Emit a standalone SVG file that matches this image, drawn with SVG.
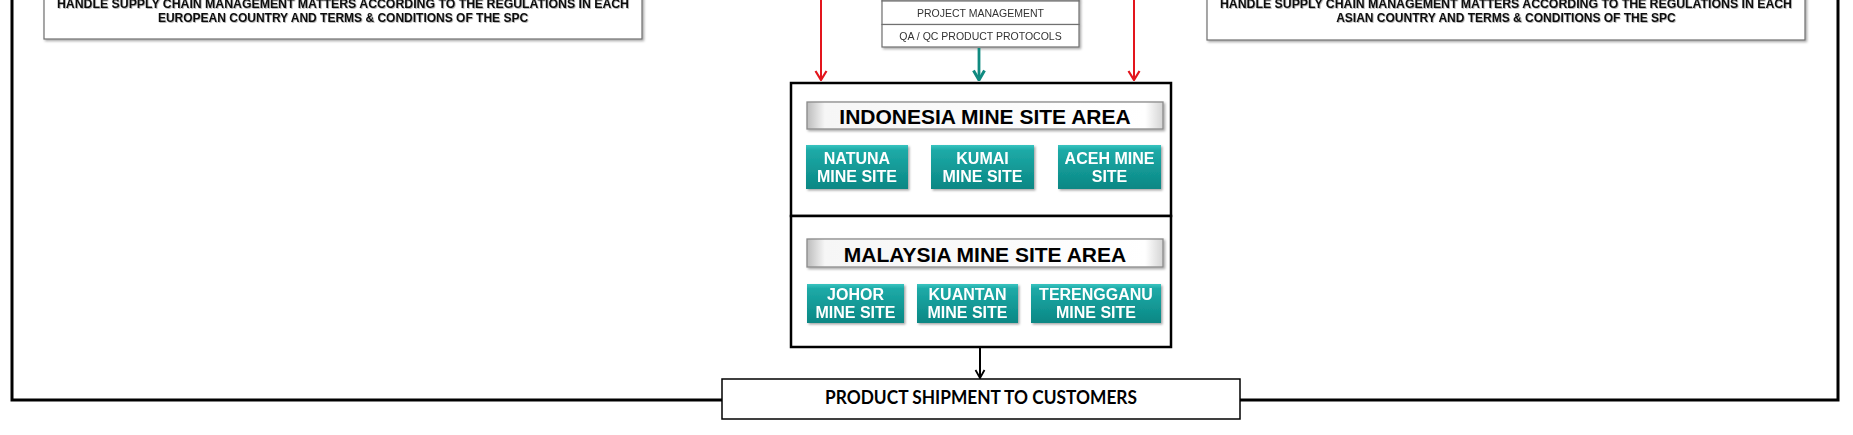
<svg xmlns="http://www.w3.org/2000/svg" width="1853" height="435" viewBox="0 0 1853 435">
<defs>
  <filter id="sh" x="-5%" y="-20%" width="110%" height="150%">
    <feDropShadow dx="1.5" dy="1.5" stdDeviation="1" flood-color="#000" flood-opacity="0.35"/>
  </filter>
  <filter id="tsh" x="-5%" y="-30%" width="110%" height="160%">
    <feDropShadow dx="0.8" dy="0.8" stdDeviation="0.5" flood-color="#000" flood-opacity="0.35"/>
  </filter>
  <linearGradient id="teal" x1="0" y1="0" x2="0" y2="1">
    <stop offset="0" stop-color="#39c4c0"/>
    <stop offset="0.12" stop-color="#1eaaa7"/>
    <stop offset="0.6" stop-color="#129794"/>
    <stop offset="1" stop-color="#0d8784"/>
  </linearGradient>
  <linearGradient id="hdr" x1="0" y1="0" x2="1" y2="0">
    <stop offset="0" stop-color="#bcbcbc"/>
    <stop offset="0.05" stop-color="#f6f6f6"/>
    <stop offset="0.95" stop-color="#ffffff"/>
    <stop offset="1" stop-color="#d4d4d4"/>
  </linearGradient>
  <marker id="arR" viewBox="0 0 14 14" refX="13" refY="7" markerWidth="14" markerHeight="14" markerUnits="userSpaceOnUse" orient="auto">
    <path d="M4,1.5 L13,7 L4,12.5" fill="none" stroke="#e3151d" stroke-width="2.2"/>
  </marker>
  <marker id="arT" viewBox="0 0 14 14" refX="13" refY="7" markerWidth="14" markerHeight="14" markerUnits="userSpaceOnUse" orient="auto">
    <path d="M3.5,1.5 L13,7 L3.5,12.5" fill="none" stroke="#108a80" stroke-width="3"/>
  </marker>
  <marker id="arK" viewBox="0 0 12 12" refX="11" refY="6" markerWidth="12" markerHeight="12" markerUnits="userSpaceOnUse" orient="auto">
    <path d="M3,1.5 L11,6 L3,10.5" fill="none" stroke="#000" stroke-width="1.8"/>
  </marker>
</defs>
<style>
  .note{fill:#fff;stroke:#6f6f6f;stroke-width:1.2}
  .notet{font-family:"Liberation Sans",Arial,sans-serif;font-weight:bold;font-size:12px;fill:#111;text-anchor:middle}
  .pm{fill:#fff;stroke:#6f6f6f;stroke-width:1.2}
  .pmt{font-family:"Liberation Sans",Arial,sans-serif;font-size:10.5px;fill:#333;text-anchor:middle}
  .hdr{fill:url(#hdr);stroke:#8a8a8a;stroke-width:1.3}
  .hdrt{font-family:"Liberation Sans",Arial,sans-serif;font-weight:bold;font-size:21px;fill:#000;text-anchor:middle}
  .btn{fill:url(#teal)}
  .btnt{font-family:"Liberation Sans",Arial,sans-serif;font-weight:bold;font-size:16px;fill:#fff;text-anchor:middle}
  .frame{fill:none;stroke:#000;stroke-width:3}
  .area{fill:#fff;stroke:#000;stroke-width:2.5}
  .ship{fill:#fff;stroke:#000;stroke-width:1.5}
  .shipt{font-family:Lato,"Liberation Sans",sans-serif;font-weight:bold;font-size:18px;fill:#000;text-anchor:middle}
</style>
<rect width="1853" height="435" fill="#fff"/>

<g id="outer-frame">
  <path class="frame" d="M12,-10 L12,400 L1838,400 L1838,-10"/>
</g>

<g id="europe-note" filter="url(#sh)">
  <rect class="note" x="44" y="-30" width="598" height="69"/>
  <g filter="url(#tsh)">
    <text class="notet" x="343" y="8" textLength="572" lengthAdjust="spacingAndGlyphs">HANDLE SUPPLY CHAIN MANAGEMENT MATTERS ACCORDING TO THE REGULATIONS IN EACH</text>
    <text class="notet" x="343" y="22">EUROPEAN COUNTRY AND TERMS &amp; CONDITIONS OF THE SPC</text>
  </g>
</g>

<g id="asia-note" filter="url(#sh)">
  <rect class="note" x="1207" y="-30" width="598" height="70"/>
  <g filter="url(#tsh)">
    <text class="notet" x="1506" y="8" textLength="572" lengthAdjust="spacingAndGlyphs">HANDLE SUPPLY CHAIN MANAGEMENT MATTERS ACCORDING TO THE REGULATIONS IN EACH</text>
    <text class="notet" x="1506" y="22">ASIAN COUNTRY AND TERMS &amp; CONDITIONS OF THE SPC</text>
  </g>
</g>

<g id="services" filter="url(#sh)">
  <rect class="pm" x="882" y="-30" width="197" height="31"/>
  <rect class="pm" x="882" y="1" width="197" height="23.5"/>
  <text class="pmt" x="980.5" y="17">PROJECT MANAGEMENT</text>
  <rect class="pm" x="882" y="24.5" width="197" height="22.5"/>
  <text class="pmt" x="980.5" y="40">QA / QC PRODUCT PROTOCOLS</text>
</g>

<g id="connectors">
  <line x1="821" y1="-2" x2="821" y2="80" stroke="#e3151d" stroke-width="2" marker-end="url(#arR)"/>
  <line x1="1134" y1="-2" x2="1134" y2="80" stroke="#e3151d" stroke-width="2" marker-end="url(#arR)"/>
  <line x1="979" y1="48" x2="979" y2="80" stroke="#108a80" stroke-width="2.8" marker-end="url(#arT)"/>
  <line x1="980" y1="348" x2="980" y2="378" stroke="#000" stroke-width="2" marker-end="url(#arK)"/>
</g>

<g id="indonesia-area">
  <rect class="area" x="791" y="83" width="380" height="133"/>
  <g filter="url(#sh)"><rect class="hdr" x="807" y="102" width="356" height="27"/></g>
  <text class="hdrt" x="985" y="123.5">INDONESIA MINE SITE AREA</text>
</g>
<g id="natuna" filter="url(#sh)">
  <rect class="btn" x="806" y="145" width="102" height="44"/>
  <text class="btnt" x="857" y="164">NATUNA</text>
  <text class="btnt" x="857" y="181.5">MINE SITE</text>
</g>
<g id="kumai" filter="url(#sh)">
  <rect class="btn" x="931" y="145" width="103" height="44"/>
  <text class="btnt" x="982.5" y="164">KUMAI</text>
  <text class="btnt" x="982.5" y="181.5">MINE SITE</text>
</g>
<g id="aceh" filter="url(#sh)">
  <rect class="btn" x="1058" y="145" width="103" height="44"/>
  <text class="btnt" x="1109.5" y="164">ACEH MINE</text>
  <text class="btnt" x="1109.5" y="181.5">SITE</text>
</g>

<g id="malaysia-area">
  <rect class="area" x="791" y="216" width="380" height="131"/>
  <g filter="url(#sh)"><rect class="hdr" x="807" y="239" width="356" height="28"/></g>
  <text class="hdrt" x="985" y="261.5">MALAYSIA MINE SITE AREA</text>
</g>
<g id="johor" filter="url(#sh)">
  <rect class="btn" x="807" y="284" width="97" height="39"/>
  <text class="btnt" x="855.5" y="300">JOHOR</text>
  <text class="btnt" x="855.5" y="318">MINE SITE</text>
</g>
<g id="kuantan" filter="url(#sh)">
  <rect class="btn" x="917" y="284" width="101" height="39"/>
  <text class="btnt" x="967.5" y="300">KUANTAN</text>
  <text class="btnt" x="967.5" y="318">MINE SITE</text>
</g>
<g id="terengganu" filter="url(#sh)">
  <rect class="btn" x="1031" y="284" width="130" height="39"/>
  <text class="btnt" x="1096" y="300">TERENGGANU</text>
  <text class="btnt" x="1096" y="318">MINE SITE</text>
</g>

<g id="shipment">
  <rect class="ship" x="722" y="379" width="518" height="40"/>
  <text class="shipt" x="981" y="404" textLength="312" lengthAdjust="spacingAndGlyphs">PRODUCT SHIPMENT TO CUSTOMERS</text>
</g>
</svg>
